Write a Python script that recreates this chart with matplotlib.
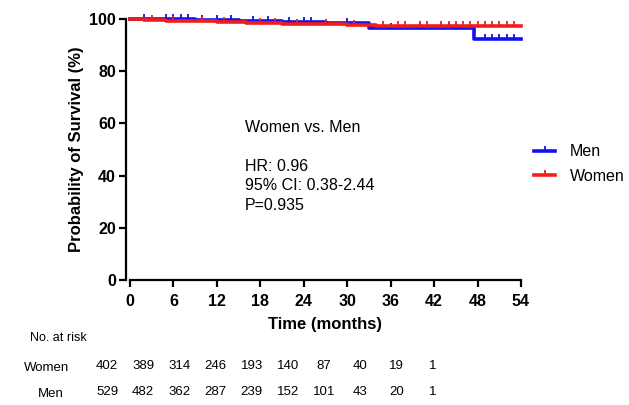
import matplotlib
matplotlib.use("Agg")
import matplotlib.pyplot as plt
from matplotlib.lines import Line2D

plt.rcParams['font.family'] = ['Liberation Sans', 'DejaVu Sans']

# Kaplan-Meier step curves (time in months, survival in %)
men_t = [0, 9, 15, 21, 27, 33, 47.5, 54]
men_s = [100, 99.6, 99.2, 98.9, 98.4, 96.5, 92.2, 92.2]
women_t = [0, 2, 5, 8, 12, 16, 21, 26, 30, 34, 54]
women_s = [100, 99.7, 99.4, 99.1, 98.8, 98.5, 98.2, 98.0, 97.7, 97.4, 97.4]

# censored observations
men_cens = [2, 5, 6, 7, 8, 10, 12, 14, 17, 19, 22, 24, 25, 30, 36, 40, 44, 49, 50, 51, 52, 53]
women_cens = [3, 6, 10, 13, 18, 20, 23, 27, 31, 35, 37, 38, 40, 41, 43, 44, 45, 46,
              47, 48, 49, 50, 51, 52, 53]

x_ticks = [0, 6, 12, 18, 24, 30, 36, 42, 48, 54]
y_ticks = [0, 20, 40, 60, 80, 100]

risk_women = [402, 389, 314, 246, 193, 140, 87, 40, 19, 1]
risk_men = [529, 482, 362, 287, 239, 152, 101, 43, 20, 1]

blue = '#1010f0'
red = '#f21c1c'


def surv_at(times, surv, t):
    s = surv[0]
    for ti, si in zip(times, surv):
        if ti <= t:
            s = si
    return s


W, H = 629, 405
fig = plt.figure(figsize=(W / 100, H / 100), dpi=100)
ax = fig.add_axes([130 / W, 1 - 280 / H, (521 - 130) / W, (280 - 19) / H])

ax.step(men_t, men_s, where='post', color=blue, lw=2.6, clip_on=False, zorder=3)
ax.step(women_t, women_s, where='post', color=red, lw=2.6, clip_on=False, zorder=4)
# censor marks: small ticks pointing up (marker 2 = TICKUP)
ax.plot(men_cens, [surv_at(men_t, men_s, t) for t in men_cens], ls='none',
        marker=2, ms=3.5, mew=1.3, color=blue, clip_on=False, zorder=3)
ax.plot(women_cens, [surv_at(women_t, women_s, t) for t in women_cens], ls='none',
        marker=2, ms=3.5, mew=1.3, color=red, clip_on=False, zorder=4)

ax.set_xlim(0, 54)
ax.set_ylim(0, 100)
ax.set_xticks(x_ticks)
ax.set_yticks(y_ticks)
for s in ['top', 'right']:
    ax.spines[s].set_visible(False)
ax.spines['left'].set_position(('outward', 3))
for s in ['left', 'bottom']:
    ax.spines[s].set_linewidth(1.6)
ax.tick_params(width=1.6, length=5, labelsize=11.5)
ax.tick_params(axis='x', pad=5)
ax.tick_params(axis='y', pad=2)
for lab in ax.get_xticklabels() + ax.get_yticklabels():
    lab.set_fontweight('bold')
ax.set_xlabel('Time (months)', fontsize=12, fontweight='bold', labelpad=6)
ax.set_ylabel('Probability of Survival (%)', fontsize=12, fontweight='bold', labelpad=4)

# statistics annotation
ax.text(15.9, 58.5, 'Women vs. Men', fontsize=11.5, va='center')
ax.text(15.9, 43.3, 'HR: 0.96', fontsize=11.5, va='center')
ax.text(15.9, 36.3, '95% CI: 0.38-2.44', fontsize=11.5, va='center')
ax.text(15.9, 28.7, 'P=0.935', fontsize=11.5, va='center')

# legend outside the plot area
handles = [Line2D([], [], color=blue, lw=2.6, marker=2, ms=3.5, mew=1.3),
           Line2D([], [], color=red, lw=2.6, marker=2, ms=3.5, mew=1.3)]
fig.legend(handles, ['Men', 'Women'], loc='center left',
           bbox_to_anchor=(520 / W, 1 - 164 / H), frameon=False, fontsize=11.5,
           handlelength=1.3, handletextpad=0.9, labelspacing=0.6)

# number at risk table
fig.text(30 / W, 1 - 338 / H, 'No. at risk', fontsize=9, va='center')
fig.text(47 / W, 1 - 368 / H, 'Women', fontsize=9.5, ha='center', va='center')
fig.text(51 / W, 1 - 394 / H, 'Men', fontsize=9.5, ha='center', va='center')
for i in range(len(x_ticks)):
    xp = (107 + i * 36.2) / W
    fig.text(xp, 1 - 366 / H, str(risk_women[i]), fontsize=9.5, ha='center', va='center')
    fig.text(xp, 1 - 392 / H, str(risk_men[i]), fontsize=9.5, ha='center', va='center')

fig.savefig('out.png', dpi=100)
